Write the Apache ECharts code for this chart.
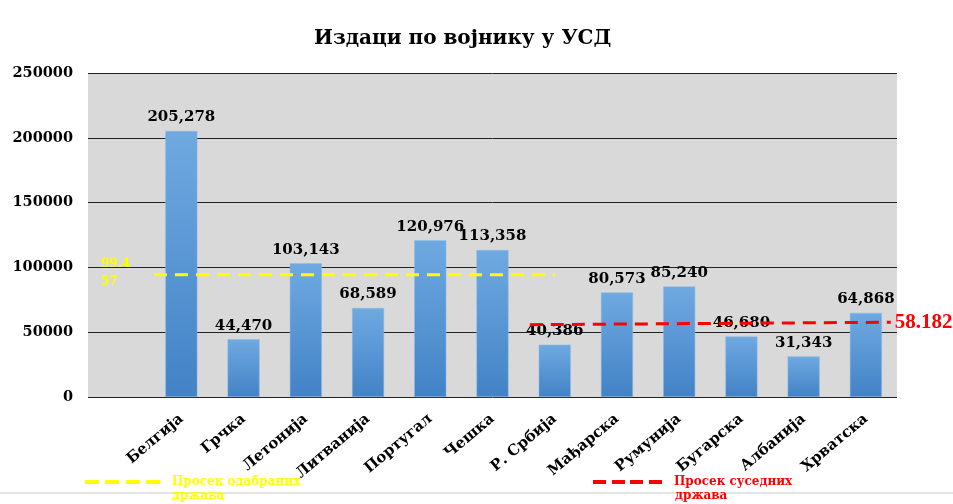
<!DOCTYPE html>
<html>
<head>
<meta charset="utf-8">
<script src="https://cdn.jsdelivr.net/npm/echarts@6/dist/echarts.min.js"></script>
<style>
  html, body { margin: 0; padding: 0; background: #fff; }
  #chart { width: 953px; height: 504px; }
</style>
</head>
<body>
<div id="chart"></div>
<script>
// Издаци по војнику у УСД — стубићи + две линије просека
const countries = ['', 'Белгија', 'Грчка', 'Летонија', 'Литванија', 'Португал', 'Чешка',
  'Р. Србија', 'Мађарска', 'Румунија', 'Бугарска', 'Албанија', 'Хрватска'];
const spending = [null, 205278, 44470, 103143, 68589, 120976, 113358,
  40386, 80573, 85240, 46680, 31343, 64868];
const yTicks = [0, 50000, 100000, 150000, 200000, 250000];

// просеци: [позиција на скривеној x оси, вредност]
const avgSelected = [[1.06, 94400], [7.5, 94400]];
const avgSelectedLabel = '99.4\n57';
const avgNeighbors = [[7.1, 55800], [12.9, 57700]];
const avgNeighborsLabel = '58.182';

const serif = '"DejaVu Serif", "Liberation Serif", serif';
const times = '"Liberation Serif", serif';
const fmt = v => v.toLocaleString('en-US');

const chart = echarts.init(document.getElementById('chart'));
chart.setOption({
  animation: false,
  title: {
    text: 'Издаци по војнику у УСД',
    left: 309, top: 24,
    textStyle: { fontFamily: serif, fontWeight: 'bold', fontSize: 20, color: '#000' }
  },
  grid: { left: 88, right: 56, top: 73, bottom: 107, show: true, backgroundColor: '#d9d9d9', borderWidth: 0 },
  legend: [
    {
      data: ['Просек одабраних'], left: 80, top: 471, itemWidth: 75, itemHeight: 4,
      icon: 'path://M0,0h14v4h-14z M20,0h14v4h-14z M41,0h14v4h-14z M61,0h14v4h-14z',
      textStyle: { color: '#ffff00', fontFamily: serif, fontWeight: 'bold', fontSize: 12, padding: [0, 0, 0, 7] }
    },
    {
      data: ['Просек суседних'], left: 588, top: 471, itemWidth: 69, itemHeight: 4,
      icon: 'path://M0,0h13v4h-13z M19,0h13v4h-13z M37,0h13v4h-13z M56,0h13v4h-13z',
      textStyle: { color: '#ff0000', fontFamily: serif, fontWeight: 'bold', fontSize: 12, padding: [0, 0, 0, 7] }
    }
  ],
  graphic: [
    { type: 'line', shape: { x1: 0, y1: 493, x2: 953, y2: 493 }, style: { stroke: '#c8c8c8', lineWidth: 1 } },
    { type: 'text', left: 172, top: 490, style: { text: 'држава', fill: '#ffff00', font: 'bold 12px ' + serif } },
    { type: 'text', left: 675, top: 490, style: { text: 'држава', fill: '#ff0000', font: 'bold 12px ' + serif } }
  ],
  xAxis: [
    {
      type: 'category', data: countries,
      axisLine: { show: false }, axisTick: { show: false },
      axisLabel: {
        rotate: 40, margin: 20, interval: 0,
        fontFamily: serif, fontWeight: 'bold', fontSize: 15, color: '#000'
      }
    },
    { type: 'value', min: 0, max: countries.length, show: false }
  ],
  yAxis: {
    type: 'value', min: yTicks[0], max: yTicks[yTicks.length - 1], interval: 50000,
    axisLine: { show: false }, axisTick: { show: false },
    splitLine: { lineStyle: { color: '#222', width: 1 } },
    axisLabel: { margin: 15, formatter: v => String(v), fontFamily: serif, fontWeight: 'bold', fontSize: 14.5, color: '#000' }
  },
  series: [
    {
      type: 'bar', data: spending, barWidth: 32,
      itemStyle: {
        color: new echarts.graphic.LinearGradient(0, 0, 0, 1, [
          { offset: 0, color: '#6fa9e1' }, { offset: 1, color: '#4282c6' }
        ]),
        borderColor: '#8dbbe6', borderWidth: 0.5
      },
      label: {
        show: true, position: 'top', distance: 6,
        formatter: p => fmt(p.value),
        fontFamily: serif, fontWeight: 'bold', fontSize: 15, color: '#000'
      }
    },
    {
      name: 'Просек одабраних', type: 'line', xAxisIndex: 1, data: avgSelected,
      color: '#ffff00', symbol: 'circle', symbolSize: 0,
      lineStyle: { color: '#ffff00', width: 3, type: [13, 8] },
      label: {
        show: true, position: [-53, -20],
        formatter: p => p.dataIndex === 0 ? avgSelectedLabel : '',
        color: '#ffff00', fontFamily: serif, fontWeight: 'bold', fontSize: 12, lineHeight: 18
      }
    },
    {
      name: 'Просек суседних', type: 'line', xAxisIndex: 1, data: avgNeighbors,
      color: '#ff0000', symbol: 'none',
      lineStyle: { color: '#ff0000', width: 3, type: [13, 8] },
      endLabel: {
        show: true, formatter: avgNeighborsLabel, distance: 4,
        color: '#ff0000', fontFamily: times, fontWeight: 'bold', fontSize: 21
      }
    }
  ]
});
</script>
</body>
</html>
